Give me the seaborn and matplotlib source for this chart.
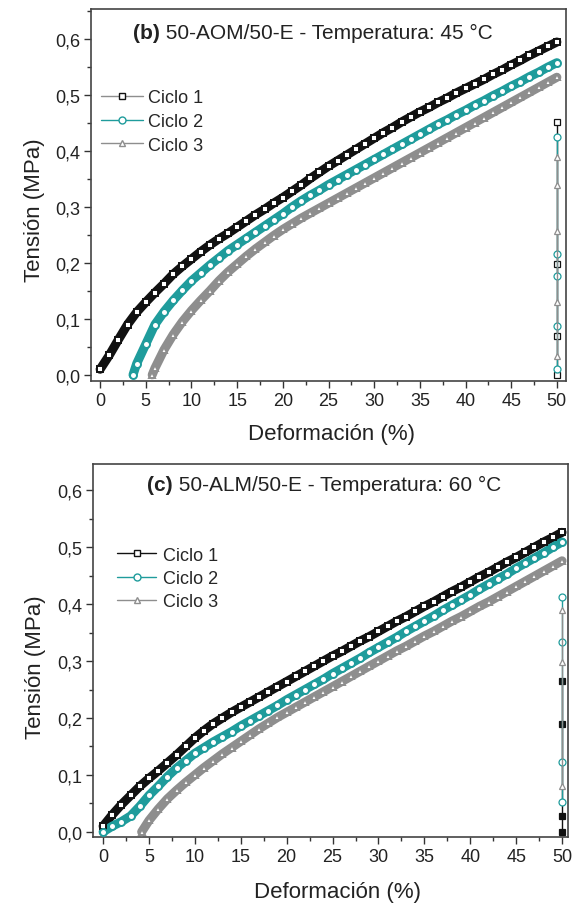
import numpy as np
import pandas as pd
import matplotlib
matplotlib.use("Agg")
import matplotlib.pyplot as plt
import seaborn as sns
from matplotlib.lines import Line2D
from matplotlib.ticker import MultipleLocator, FuncFormatter

sns.set_theme(style="white")
plt.rcParams['font.family'] = ['Liberation Sans', 'DejaVu Sans']

# ---------------- data: panel (b) 45 °C ----------------
b_c1_x = [0, 1, 2, 3, 4, 5, 6, 7, 8, 9, 10, 11, 12, 13, 14, 15, 16, 17, 18, 19, 20,
          21, 22, 23, 24, 25, 26, 27, 28, 29, 30, 31, 32, 33, 34, 35, 36, 37, 38, 39, 40,
          41, 42, 43, 44, 45, 46, 47, 48, 49, 50]
b_c1_y = [0.010, 0.035, 0.063, 0.090, 0.112, 0.130, 0.147, 0.163, 0.180, 0.194, 0.207,
          0.220, 0.232, 0.243, 0.253, 0.264, 0.275, 0.286, 0.296, 0.307, 0.317,
          0.328, 0.339, 0.351, 0.362, 0.373, 0.383, 0.393, 0.403, 0.413, 0.423,
          0.433, 0.442, 0.452, 0.461, 0.470, 0.478, 0.487, 0.495, 0.504, 0.512,
          0.520, 0.528, 0.537, 0.545, 0.554, 0.562, 0.571, 0.579, 0.587, 0.595]
b_c2_x = [3.6, 4, 5, 6, 7, 8, 9, 10, 11, 12, 13, 14, 15, 16, 17, 18, 19, 20,
          21, 22, 23, 24, 25, 26, 27, 28, 29, 30, 31, 32, 33, 34, 35, 36, 37, 38, 39, 40,
          41, 42, 43, 44, 45, 46, 47, 48, 49, 50]
b_c2_y = [0.000, 0.020, 0.055, 0.090, 0.113, 0.133, 0.151, 0.168, 0.182, 0.196, 0.209,
          0.222, 0.233, 0.244, 0.255, 0.266, 0.277, 0.288, 0.300, 0.311, 0.321,
          0.330, 0.340, 0.349, 0.358, 0.367, 0.376, 0.385, 0.394, 0.403, 0.412,
          0.421, 0.430, 0.439, 0.448, 0.456, 0.465, 0.473, 0.482, 0.490, 0.499,
          0.507, 0.516, 0.524, 0.533, 0.541, 0.550, 0.558]
b_c3_x = [5.7, 6, 7, 8, 9, 10, 11, 12, 13, 14, 15, 16, 17, 18, 19, 20,
          21, 22, 23, 24, 25, 26, 27, 28, 29, 30, 31, 32, 33, 34, 35, 36, 37, 38, 39, 40,
          41, 42, 43, 44, 45, 46, 47, 48, 49, 50]
b_c3_y = [0.000, 0.012, 0.045, 0.072, 0.095, 0.115, 0.133, 0.150, 0.168, 0.184, 0.198,
          0.212, 0.225, 0.237, 0.249, 0.260, 0.270, 0.280, 0.289, 0.298, 0.307,
          0.316, 0.325, 0.334, 0.343, 0.352, 0.361, 0.370, 0.379, 0.388, 0.397,
          0.406, 0.415, 0.424, 0.433, 0.442, 0.451, 0.460, 0.469, 0.478, 0.487,
          0.496, 0.505, 0.514, 0.523, 0.532]
# unloading at 50 %
b_u1_x = [50, 50, 50, 50]
b_u1_y = [0.452, 0.198, 0.070, 0.000]
b_u2_x = [50, 50, 50, 50, 50]
b_u2_y = [0.425, 0.216, 0.177, 0.088, 0.010]
b_u3_x = [50, 50, 50, 50, 50]
b_u3_y = [0.390, 0.340, 0.257, 0.130, 0.034]

# ---------------- data: panel (c) 60 °C ----------------
c_c1_x = b_c1_x
c_c1_y = [0.010, 0.030, 0.048, 0.064, 0.080, 0.094, 0.107, 0.121, 0.135, 0.150, 0.165,
          0.178, 0.190, 0.200, 0.210, 0.219, 0.228, 0.237, 0.246, 0.255, 0.264,
          0.273, 0.282, 0.291, 0.300, 0.309, 0.317, 0.326, 0.335, 0.343, 0.352,
          0.361, 0.370, 0.378, 0.387, 0.396, 0.404, 0.413, 0.422, 0.430, 0.439,
          0.448, 0.456, 0.465, 0.474, 0.482, 0.491, 0.500, 0.509, 0.517, 0.526]
c_c2_x = b_c1_x
c_c2_y = [0.000, 0.010, 0.018, 0.028, 0.045, 0.064, 0.080, 0.097, 0.112, 0.125, 0.138,
          0.148, 0.158, 0.167, 0.176, 0.186, 0.195, 0.204, 0.213, 0.222, 0.232,
          0.241, 0.250, 0.259, 0.268, 0.278, 0.287, 0.296, 0.305, 0.315, 0.324,
          0.333, 0.342, 0.352, 0.361, 0.370, 0.379, 0.389, 0.398, 0.407, 0.416,
          0.426, 0.435, 0.444, 0.453, 0.463, 0.472, 0.481, 0.490, 0.500, 0.509]
c_c3_x = [4.2, 5, 6, 7, 8, 9, 10, 11, 12, 13, 14, 15, 16, 17, 18, 19, 20,
          21, 22, 23, 24, 25, 26, 27, 28, 29, 30, 31, 32, 33, 34, 35, 36, 37, 38, 39, 40,
          41, 42, 43, 44, 45, 46, 47, 48, 49, 50]
c_c3_y = [0.000, 0.020, 0.040, 0.058, 0.073, 0.087, 0.100, 0.113, 0.125, 0.137, 0.148,
          0.159, 0.170, 0.181, 0.191, 0.201, 0.210, 0.219, 0.228, 0.237, 0.246,
          0.255, 0.264, 0.273, 0.282, 0.291, 0.300, 0.309, 0.318, 0.326, 0.335,
          0.344, 0.352, 0.361, 0.370, 0.378, 0.387, 0.396, 0.404, 0.413, 0.422,
          0.431, 0.440, 0.449, 0.458, 0.467, 0.476]
c_u1_x = [50, 50, 50, 50]
c_u1_y = [0.265, 0.190, 0.028, 0.000]
c_u2_x = [50, 50, 50, 50]
c_u2_y = [0.412, 0.333, 0.123, 0.053]
c_u3_x = [50, 50, 50]
c_u3_y = [0.390, 0.298, 0.080]

labels = ["Ciclo 1", "Ciclo 2", "Ciclo 3"]
xticks = [0, 5, 10, 15, 20, 25, 30, 35, 40, 45, 50]
yticks = [0.0, 0.1, 0.2, 0.3, 0.4, 0.5, 0.6]

BLACK = "#111111"
TEAL = "#1f9c9c"
GRAY = "#8e8e8e"
colors = [BLACK, TEAL, GRAY]
markers = ["s", "o", "^"]

fig = plt.figure(figsize=(5.75, 9.04), dpi=100)
ax1 = fig.add_axes([91/575, 1-382/904, (566-91)/575, (382-10)/904])
ax2 = fig.add_axes([93/575, 1-838/904, (568-93)/575, (838-465)/904])


def draw(ax, curves, unloads, filled_unload1=False):
    for (x, y), c, m in zip(curves, colors, markers):
        sns.lineplot(x=x, y=y, ax=ax, color=c, linewidth=6.5, sort=False,
                     estimator=None, legend=False, zorder=3)
        sns.lineplot(x=x, y=y, ax=ax, color=c, marker=m, markersize=5,
                     markerfacecolor="white", markeredgecolor=c, markeredgewidth=1.4,
                     linewidth=0, sort=False, estimator=None, legend=False, zorder=3.5)
    for i, ((x, y), c, m) in enumerate(zip(unloads, colors, markers)):
        fc = c if (filled_unload1 and i == 0) else "white"
        sns.lineplot(x=x, y=y, ax=ax, color=c, marker=m, markersize=5,
                     markerfacecolor=fc, markeredgecolor=c, markeredgewidth=0.9,
                     linewidth=1.0, sort=False, estimator=None, legend=False, zorder=4)


draw(ax1, [(b_c1_x, b_c1_y), (b_c2_x, b_c2_y), (b_c3_x, b_c3_y)],
     [(b_u1_x, b_u1_y), (b_u2_x, b_u2_y), (b_u3_x, b_u3_y)])
draw(ax2, [(c_c1_x, c_c1_y), (c_c2_x, c_c2_y), (c_c3_x, c_c3_y)],
     [(c_u1_x, c_u1_y), (c_u2_x, c_u2_y), (c_u3_x, c_u3_y)], filled_unload1=True)

fmt = FuncFormatter(lambda v, p: f"{v:.1f}".replace(".", ","))
setup = [(ax1, (-1.0, 51.0), (-0.011, 0.654), (-0.118, 0.462), (0.507, -0.142)),
         (ax2, (-1.1, 50.65), (-0.009, 0.646), (-0.122, 0.458), (0.515, -0.145))]
for ax, xl, yl, ylc, xlc in setup:
    ax.set_xlim(*xl)
    ax.set_ylim(*yl)
    ax.set_xticks(xticks)
    ax.set_yticks(yticks)
    ax.xaxis.set_minor_locator(MultipleLocator(2.5))
    ax.yaxis.set_minor_locator(MultipleLocator(0.05))
    ax.yaxis.set_major_formatter(fmt)
    ax.tick_params(which="major", direction="out", length=5, width=1.0, colors="#333333",
                   labelsize=13, labelcolor="#222222", pad=3,
                   bottom=True, left=True, top=False, right=False)
    ax.tick_params(which="minor", direction="out", length=3, width=1.0, colors="#333333",
                   bottom=True, left=True, top=False, right=False)
    for s in ax.spines.values():
        s.set_color("#444444")
        s.set_linewidth(1.2)
    ax.set_xlabel("Deformación (%)", fontsize=16, color="#222222")
    ax.set_ylabel("Tensión (MPa)", fontsize=16, color="#222222")
    ax.yaxis.set_label_coords(*ylc)
    ax.xaxis.set_label_coords(*xlc)
    ax.xaxis.label.set_va("center")
    ax.yaxis.label.set_va("center")
    ax.set_facecolor("white")

# titles inside the axes: bold panel letter + normal text
fig.canvas.draw()


def title(ax, letter, rest, x0, y0):
    t1 = ax.text(x0, y0, letter, transform=ax.transAxes, ha="left", va="center",
                 fontsize=15, fontweight="bold", color="#222222")
    fig.canvas.draw()
    bb = t1.get_window_extent()
    x1 = ax.transAxes.inverted().transform((bb.x1, bb.y0))[0]
    ax.text(x1, y0, " " + rest, transform=ax.transAxes, ha="left", va="center",
            fontsize=15, color="#222222")


title(ax1, "(b)", "50-AOM/50-E - Temperatura: 45 °C", (133 - 91) / 475, 0.938)
title(ax2, "(c)", "50-ALM/50-E - Temperatura: 60 °C", (147 - 93) / 475, 0.944)

# legends
leg_line_colors_b = [GRAY, TEAL, GRAY]
h1 = [Line2D([0], [0], color=lc, marker=m, markersize=5, markerfacecolor="white",
             markeredgecolor=c, linewidth=1.0)
      for lc, c, m in zip(leg_line_colors_b, colors, markers)]
ax1.legend(h1, labels, loc="upper left", bbox_to_anchor=(0.021, 0.785), frameon=False,
           fontsize=13, handlelength=2.3, handletextpad=0.3, labelspacing=0.38,
           borderpad=0, borderaxespad=0)
h2 = [Line2D([0], [0], color=c, marker=m, markersize=5, markerfacecolor="white",
             markeredgecolor=c, linewidth=1.0)
      for c, m in zip(colors, markers)]
ax2.legend(h2, labels, loc="upper left", bbox_to_anchor=(0.05, 0.778), frameon=False,
           fontsize=13, handlelength=2.2, handletextpad=0.35, labelspacing=0.35,
           borderpad=0, borderaxespad=0)

fig.savefig("out.png", dpi=100, facecolor="white")
